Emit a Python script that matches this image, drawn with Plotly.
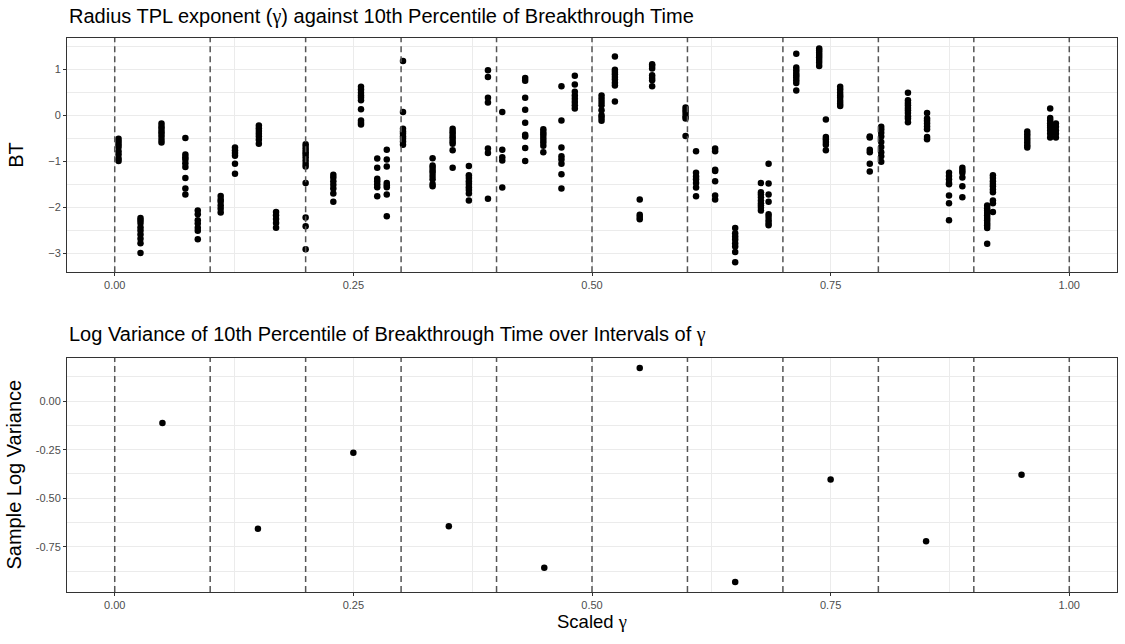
import plotly.graph_objects as go

# scaled gamma position of each column of simulations (top panel)
col_gamma = [0.004, 0.027, 0.049, 0.074, 0.087, 0.111, 0.126, 0.151, 0.169, 0.200,
             0.229, 0.258, 0.275, 0.285, 0.302, 0.333, 0.354, 0.371, 0.391, 0.406,
             0.430, 0.449, 0.468, 0.482, 0.510, 0.524, 0.550, 0.563, 0.598, 0.609,
             0.629, 0.650, 0.677, 0.685, 0.714, 0.738, 0.745, 0.760, 0.791, 0.803,
             0.831, 0.851, 0.874, 0.888, 0.914, 0.920, 0.956, 0.980, 0.986]

# BT values (10th percentile of breakthrough time) in each column
col_bt = [
    [-0.51, -0.57, -0.63, -0.69, -0.78, -0.85, -0.94, -0.99],
    [-2.23, -2.28, -2.34, -2.43, -2.50, -2.59, -2.68, -2.78, -2.99],
    [-0.18, -0.24, -0.29, -0.35, -0.40, -0.46, -0.53, -0.59],
    [-0.49, -0.85, -0.91, -0.96, -1.04, -1.12, -1.36, -1.59, -1.72],
    [-2.07, -2.15, -2.28, -2.35, -2.44, -2.51, -2.69],
    [-1.75, -1.83, -1.88, -1.96, -2.03, -2.11],
    [-0.70, -0.76, -0.82, -0.88, -1.05, -1.27],
    [-0.22, -0.28, -0.34, -0.40, -0.46, -0.53, -0.62],
    [-2.10, -2.17, -2.25, -2.34, -2.44],
    [-0.63, -0.69, -0.75, -0.80, -0.85, -0.91, -0.98, -1.05, -1.11, -1.47, -2.22, -2.41, -2.91],
    [-1.29, -1.35, -1.43, -1.51, -1.59, -1.70, -1.88],
    [0.62, 0.56, 0.49, 0.43, 0.38, 0.33, 0.13, -0.11, -0.16, -0.20],
    [-0.94, -1.14, -1.38, -1.43, -1.50, -1.56, -1.76],
    [-0.75, -0.96, -1.11, -1.47, -1.52, -1.56, -1.72, -2.19],
    [1.18, 0.07, -0.29, -0.35, -0.40, -0.46, -0.51, -0.57, -0.64],
    [-0.93, -1.09, -1.14, -1.20, -1.25, -1.32, -1.39, -1.49, -1.54],
    [-0.29, -0.35, -0.40, -0.46, -0.51, -0.57, -0.62, -0.76, -1.14],
    [-1.10, -1.30, -1.36, -1.43, -1.49, -1.56, -1.62, -1.70, -1.85],
    [0.98, 0.83, 0.38, 0.28, -0.72, -0.82, -1.81],
    [0.07, -0.75, -0.91, -0.98, -1.57],
    [0.81, 0.75, 0.38, 0.12, -0.16, -0.42, -0.46, -0.71, -0.99],
    [-0.30, -0.36, -0.41, -0.47, -0.53, -0.59, -0.66, -0.80],
    [0.63, -0.11, -0.70, -0.89, -0.96, -1.05, -1.28, -1.59],
    [0.86, 0.67, 0.51, 0.43, 0.36, 0.29, 0.22, 0.15],
    [0.43, 0.36, 0.29, 0.22, 0.11, 0.00, -0.05, -0.12],
    [1.28, 0.99, 0.94, 0.89, 0.83, 0.78, 0.71, 0.65, 0.30],
    [-1.83, -2.16, -2.21, -2.26],
    [1.11, 1.07, 1.02, 0.87, 0.81, 0.76, 0.63],
    [0.17, 0.11, 0.05, -0.02, -0.07, -0.45],
    [-0.78, -1.25, -1.33, -1.39, -1.47, -1.57, -1.76],
    [-0.72, -0.78, -1.18, -1.21, -1.43, -1.74, -1.83],
    [-2.45, -2.56, -2.63, -2.70, -2.78, -2.85, -2.97, -3.19],
    [-1.47, -1.67, -1.72, -1.78, -1.85, -1.91, -1.96, -2.01, -2.07],
    [-1.05, -1.48, -1.72, -1.88, -2.15, -2.21, -2.28, -2.34, -2.39],
    [1.34, 1.04, 0.98, 0.92, 0.87, 0.82, 0.76, 0.70, 0.54],
    [1.45, 1.41, 1.36, 1.31, 1.26, 1.20, 1.14, 1.07],
    [-0.09, -0.47, -0.52, -0.58, -0.64, -0.76],
    [0.62, 0.56, 0.49, 0.43, 0.38, 0.31, 0.25, 0.20],
    [-0.46, -0.48, -0.75, -0.80, -1.05, -1.22],
    [-0.25, -0.31, -0.38, -0.46, -0.58, -0.69, -0.80, -0.89, -1.01],
    [0.49, 0.33, 0.27, 0.22, 0.16, 0.11, 0.05, -0.02, -0.07, -0.15],
    [0.05, -0.07, -0.12, -0.18, -0.24, -0.30, -0.47, -0.52],
    [-1.25, -1.32, -1.39, -1.47, -1.50, -1.74, -1.91, -2.28],
    [-1.14, -1.20, -1.25, -1.35, -1.54, -1.78],
    [-1.96, -2.02, -2.07, -2.12, -2.17, -2.23, -2.28, -2.34, -2.39, -2.45, -2.79],
    [-1.30, -1.36, -1.43, -1.49, -1.54, -1.61, -1.67, -1.85, -1.91, -2.10],
    [-0.35, -0.41, -0.47, -0.53, -0.59, -0.65, -0.70],
    [0.15, -0.06, -0.11, -0.17, -0.22, -0.27, -0.33, -0.40, -0.48],
    [-0.18, -0.25, -0.33, -0.40, -0.48],
]

# interval midpoints and sample log variance (bottom panel)
interval_mid = [0.05, 0.15, 0.25, 0.35, 0.45, 0.55, 0.65, 0.75, 0.85, 0.95]
log_var = [-0.113, -0.657, -0.266, -0.644, -0.857, 0.170, -0.930, -0.403, -0.721, -0.379]

# interval boundaries (dashed lines)
cut_points = [0.0, 0.1, 0.2, 0.3, 0.4, 0.5, 0.6, 0.7, 0.8, 0.9, 1.0]

x_ticks = [0.0, 0.25, 0.5, 0.75, 1.0]
x_tick_text = ["0.00", "0.25", "0.50", "0.75", "1.00"]
top_y_ticks = [-3, -2, -1, 0, 1]
bot_y_ticks = [0.0, -0.25, -0.5, -0.75]
bot_y_tick_text = ["0.00", "-0.25", "-0.50", "-0.75"]

# flatten the columns
bt_x, bt_y = [], []
for g, vals in zip(col_gamma, col_bt):
    bt_x += [g] * len(vals)
    bt_y += vals

FONT = "Liberation Sans, Arial, Helvetica, sans-serif"
GAMMA = "<span style='font-family:Liberation Serif, DejaVu Serif, serif'>γ</span>"
GRID = "#ebebeb"
BORDER = "#333333"

fig = go.Figure()

fig.add_trace(go.Scatter(x=bt_x, y=bt_y, mode="markers", xaxis="x", yaxis="y",
                         marker=dict(color="black", size=6.5), showlegend=False))
fig.add_trace(go.Scatter(x=interval_mid, y=log_var, mode="markers", xaxis="x2", yaxis="y2",
                         marker=dict(color="black", size=6.5), showlegend=False))

# dashed interval lines on both panels
for xr, yr in [("x", "y domain"), ("x2", "y2 domain")]:
    for c in cut_points:
        fig.add_shape(type="line", xref=xr, yref=yr, x0=c, x1=c, y0=0, y1=1,
                      line=dict(color="#555555", width=1.5, dash="6px,4px"), layer="above")

axis_common = dict(
    showline=True, mirror=True, linecolor=BORDER, linewidth=1,
    showgrid=True, gridcolor=GRID, gridwidth=1, zeroline=False,
    ticks="outside", ticklen=3, tickcolor=BORDER,
    tickfont=dict(family=FONT, size=11, color="#4d4d4d"),
)

fig.update_layout(
    width=1125, height=644,
    margin=dict(l=67, r=8, t=38, b=52),
    paper_bgcolor="white", plot_bgcolor="white",
    font=dict(family=FONT, color="black"),
    xaxis=dict(axis_common, domain=[0, 1], anchor="y", range=[-0.05, 1.05],
               tickvals=x_ticks, ticktext=x_tick_text,
               minor=dict(tickvals=[0.125, 0.375, 0.625, 0.875], showgrid=True,
                          gridcolor=GRID, gridwidth=0.6, ticks="")),
    yaxis=dict(axis_common, domain=[0.5771, 1], anchor="x", range=[-3.41, 1.68],
               tickvals=top_y_ticks,
               minor=dict(tickvals=[-2.5, -1.5, -0.5, 0.5, 1.5], showgrid=True,
                          gridcolor=GRID, gridwidth=0.6, ticks="")),
    xaxis2=dict(axis_common, domain=[0, 1], anchor="y2", range=[-0.05, 1.05],
                tickvals=x_ticks, ticktext=x_tick_text,
                minor=dict(tickvals=[0.125, 0.375, 0.625, 0.875], showgrid=True,
                           gridcolor=GRID, gridwidth=0.6, ticks="")),
    yaxis2=dict(axis_common, domain=[0, 0.4229], anchor="x2", range=[-0.982, 0.223],
                tickvals=bot_y_ticks, ticktext=bot_y_tick_text,
                minor=dict(tickvals=[0.125, -0.125, -0.375, -0.625, -0.875], showgrid=True,
                           gridcolor=GRID, gridwidth=0.6, ticks="")),
)

annotations = [
    dict(text=f"Radius TPL exponent ({GAMMA}) against 10th Percentile of Breakthrough Time",
         x=0, y=1.0397, xanchor="left", yanchor="middle", font=dict(size=20)),
    dict(text=f"Log Variance of 10th Percentile of Breakthrough Time over Intervals of {GAMMA}",
         x=0, y=0.4639, xanchor="left", yanchor="middle", font=dict(size=20)),
    dict(text="BT", x=-0.0486, y=0.789, textangle=-90, xanchor="center", yanchor="middle",
         font=dict(size=20)),
    dict(text="Sample Log Variance", x=-0.0505, y=0.212, textangle=-90, xanchor="center",
         yanchor="middle", font=dict(size=20)),
    dict(text=f"Scaled {GAMMA}", x=0.5, y=-0.054, xanchor="center", yanchor="middle",
         font=dict(size=18.5)),
]
for a in annotations:
    fig.add_annotation(xref="paper", yref="paper", showarrow=False, **a)

# drop the default 8px page margin so the figure fills the window exactly
fig.write_html("out.html", config={"displayModeBar": False},
               post_script="document.body.style.margin='0';")
